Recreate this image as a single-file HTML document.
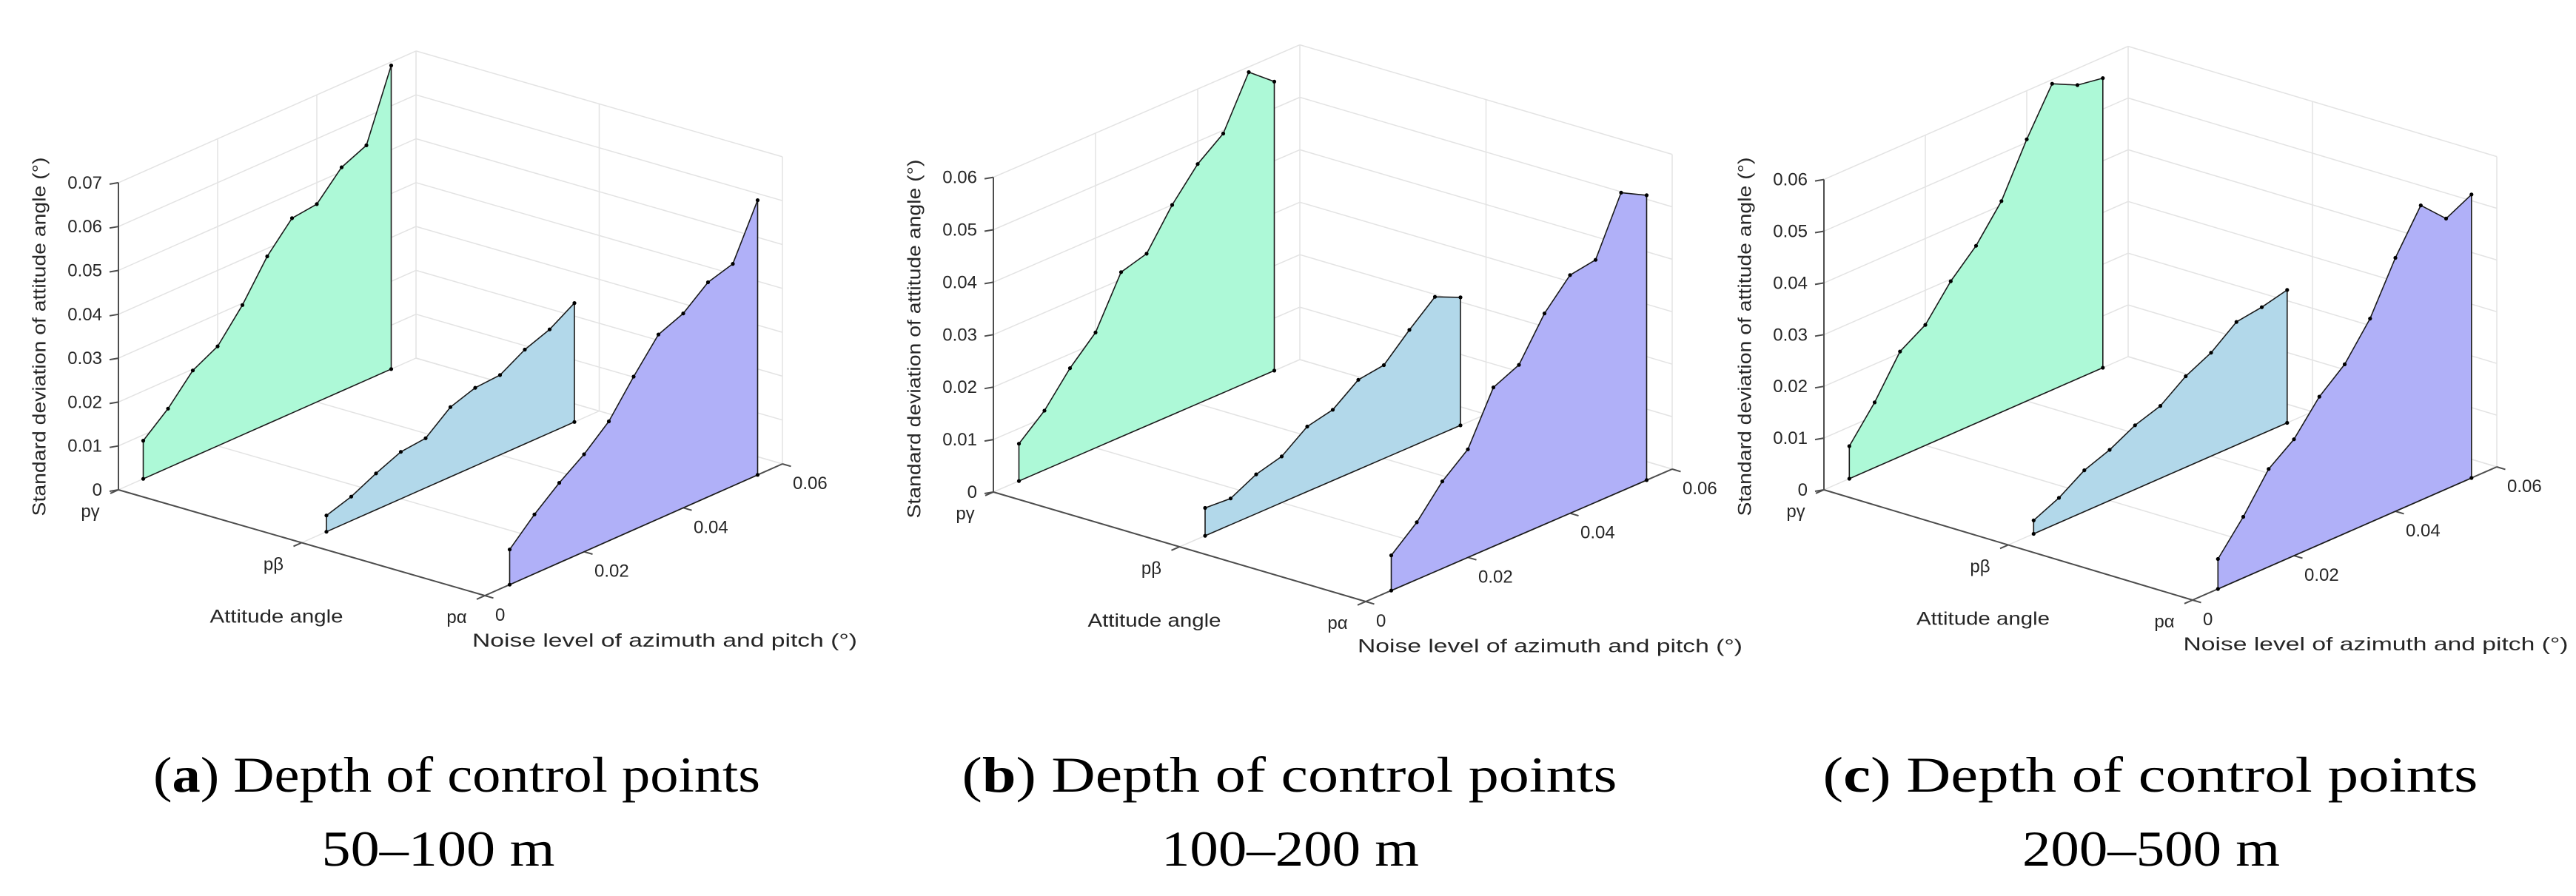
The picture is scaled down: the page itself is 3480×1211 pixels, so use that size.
<!DOCTYPE html>
<html><head><meta charset="utf-8"><style>
html,body{margin:0;padding:0;background:#fff;}
svg{display:block;}
text{font-family:"Liberation Sans",sans-serif;}
.cap{font-family:"Liberation Serif",serif;fill:#000;}
</style></head><body>
<svg id="fig" width="3480" height="1211" viewBox="0 0 3480 1211" xmlns="http://www.w3.org/2000/svg">
<rect width="3480" height="1211" fill="#fff"/>
<g id="panels"></g>
<g>
<text class="cap" x="617" y="1070" font-size="68" text-anchor="middle" textLength="820" lengthAdjust="spacingAndGlyphs">(<tspan font-weight="bold">a</tspan>) Depth of control points</text>
<text class="cap" x="592" y="1170" font-size="68" text-anchor="middle" textLength="315" lengthAdjust="spacingAndGlyphs">50–100 m</text>
</g>
<g>
<text class="cap" x="1742" y="1070" font-size="68" text-anchor="middle" textLength="885" lengthAdjust="spacingAndGlyphs">(<tspan font-weight="bold">b</tspan>) Depth of control points</text>
<text class="cap" x="1743" y="1170" font-size="68" text-anchor="middle" textLength="348" lengthAdjust="spacingAndGlyphs">100–200 m</text>
</g>
<g>
<text class="cap" x="2905" y="1070" font-size="68" text-anchor="middle" textLength="885" lengthAdjust="spacingAndGlyphs">(<tspan font-weight="bold">c</tspan>) Depth of control points</text>
<text class="cap" x="2906" y="1170" font-size="68" text-anchor="middle" textLength="348" lengthAdjust="spacingAndGlyphs">200–500 m</text>
</g>
</svg>
<script>
// ---- data ----
const noiseLevels = [0.005,0.01,0.015,0.02,0.025,0.03,0.035,0.04,0.045,0.05,0.055];
const attitudeCategories = ["pγ","pβ","pα"];
const noiseTicks = [0,0.02,0.04,0.06];
const noiseTickLabels = ["0","0.02","0.04","0.06"];
const zTicksA = [0,0.01,0.02,0.03,0.04,0.05,0.06,0.07];
const zTicksBC = [0,0.01,0.02,0.03,0.04,0.05,0.06];
const aGamma = [0.0087,0.0135,0.0197,0.0227,0.0296,0.0382,0.0444,0.0451,0.051,0.0535,0.0692];
const aBeta  = [0.0037,0.0055,0.0083,0.0107,0.0113,0.0159,0.0178,0.0182,0.0215,0.0236,0.0271];
const aAlpha = [0.008,0.0135,0.0182,0.0222,0.0272,0.0349,0.042,0.0443,0.0489,0.0506,0.0626];
const bGamma = [0.0071,0.0113,0.0173,0.022,0.0314,0.0328,0.040,0.0457,0.0494,0.059,0.0551];
const bBeta  = [0.0053,0.0050,0.0075,0.0088,0.0124,0.0135,0.0171,0.0178,0.0224,0.0266,0.0244];
const bAlpha = [0.0067,0.0109,0.0166,0.0206,0.0303,0.0325,0.0402,0.0454,0.0462,0.0569,0.0543];
const cGamma = [0.0063,0.0126,0.0203,0.0233,0.0296,0.0343,0.0408,0.0506,0.0592,0.0568,0.056];
const cBeta  = [0.0026,0.0048,0.008,0.0098,0.0124,0.014,0.0176,0.020,0.0238,0.0245,0.0257];
const cAlpha = [0.0058,0.0118,0.0189,0.0225,0.0286,0.0327,0.0394,0.049,0.057,0.0523,0.0548];

const NS="http://www.w3.org/2000/svg";
const root=document.getElementById('panels');
function mk(tag,attrs,parent){const e=document.createElementNS(NS,tag);for(const k in attrs)e.setAttribute(k,attrs[k]);parent.appendChild(e);return e;}

const panels=[
 {id:'a',O:[160,662],A:[495,143],N:[402,-178],zpx:5930,zTicks:zTicksA,series:[aGamma,aBeta,aAlpha]},
 {id:'b',O:[1342,665],A:[503,148],N:[414,-179],zpx:7090,zTicks:zTicksBC,series:[bGamma,bBeta,bAlpha]},
 {id:'c',O:[2464,662],A:[498,149],N:[411,-180],zpx:6990,zTicks:zTicksBC,series:[cGamma,cBeta,cAlpha]}
];
const fills=["#adf9d7","#b2d8ea","#b0b0f8"];
const seriesNames=["gamma","beta","alpha"];

panels.forEach(p=>{
 const g=mk('g',{},root);
 
 
 const zmax=p.zTicks[p.zTicks.length-1];
 const P=(att,n,z)=>[p.O[0]+att*p.A[0]+(n/0.06)*p.N[0], p.O[1]+att*p.A[1]+(n/0.06)*p.N[1]-z*p.zpx];
 const line=(a,b,col,w,name)=>{const l=mk('line',{x1:a[0].toFixed(1),y1:a[1].toFixed(1),x2:b[0].toFixed(1),y2:b[1].toFixed(1),stroke:col,'stroke-width':w},g);
   
   return l;};
 const grid='#e3e3e3';
 p.zTicks.forEach(z=>{
   line(P(0,0,z),P(0,0.06,z),grid,1.5,'gridline-z');
   line(P(0,0.06,z),P(1,0.06,z),grid,1.5,'gridline-z');
 });
 noiseTicks.forEach(n=>{
   line(P(0,n,0),P(0,n,zmax),grid,1.5,'gridline-noise-wall');
   line(P(0,n,0),P(1,n,0),grid,1.5,'gridline-noise-floor');
 });
 [0.5,1].forEach(a=>{
   line(P(a,0.06,0),P(a,0.06,zmax),grid,1.5,'gridline-attitude-wall');
   line(P(a,0,0),P(a,0.06,0),grid,1.5,'gridline-attitude-floor');
 });
 const ax='#4d4d4d';
 line(P(0,0,0),P(0,0,zmax),ax,2,'z-axis-line');
 line(P(0,0,0),P(1,0,0),ax,2,'attitude-axis-line');
 line(P(1,0,0),P(1,0.06,0),ax,2,'noise-axis-line');
 const nl=Math.hypot(p.N[0],p.N[1]), al=Math.hypot(p.A[0],p.A[1]);
 const nu=[p.N[0]/nl,p.N[1]/nl], au=[p.A[0]/al,p.A[1]/al];
 p.zTicks.forEach(z=>{
   const q=P(0,0,z);
   line(q,[q[0]-12,q[1]+2],ax,2,'z-tick');
   const t=mk('text',{x:(q[0]-22).toFixed(1),y:(q[1]+8).toFixed(1),'font-size':24,fill:'#262626','text-anchor':'end'},g);
   t.textContent=(z===0?'0':z.toFixed(2));
   
   
 });
 attitudeCategories.forEach((c,i)=>{
   const q=P(i/2,0,0);
   line(q,[q[0]-nu[0]*12,q[1]-nu[1]*12],ax,2,'attitude-tick');
   const t=mk('text',{x:(q[0]-38).toFixed(1),y:(q[1]+37).toFixed(1),'font-size':24,fill:'#262626','text-anchor':'middle'},g);
   t.textContent=c;
   
   
 });
 noiseTicks.forEach((n,i)=>{
   const q=P(1,n,0);
   line(q,[q[0]+au[0]*12,q[1]+au[1]*12],ax,2,'noise-tick');
   const t=mk('text',{x:(q[0]+14).toFixed(1),y:(q[1]+34).toFixed(1),'font-size':24,fill:'#262626','text-anchor':'start'},g);
   t.textContent=noiseTickLabels[i];
   
   
 });
 let q=P(0.5,0,0);
 let t=mk('text',{x:(q[0]-34).toFixed(1),y:(q[1]+108).toFixed(1),'font-size':25,fill:'#262626','text-anchor':'middle',textLength:180,lengthAdjust:'spacingAndGlyphs'},g);
 t.textContent='Attitude angle';
 
 
 q=P(1,0.03,0);
 t=mk('text',{x:(q[0]+42).toFixed(1),y:(q[1]+158).toFixed(1),'font-size':25,fill:'#262626','text-anchor':'middle',textLength:520,lengthAdjust:'spacingAndGlyphs'},g);
 t.textContent='Noise level of azimuth and pitch (°)';
 
 
 const zx=p.O[0]-105, zy=p.O[1]-207;
 t=mk('text',{x:zx,y:zy,'font-size':25,fill:'#262626','text-anchor':'middle',transform:`rotate(-90 ${zx} ${zy})`,textLength:485,lengthAdjust:'spacingAndGlyphs','dominant-baseline':'middle'},g);
 t.textContent='Standard deviation of attitude angle (°)';
 
 
 p.series.forEach((vals,si)=>{
   const att=si/2;
   const bottom=noiseLevels.map(n=>P(att,n,0));
   const top=noiseLevels.map((n,i)=>P(att,n,vals[i]));
   const pts=bottom.concat(top.slice().reverse()).map(v=>v[0].toFixed(1)+','+v[1].toFixed(1)).join(' ');
   const poly=mk('polygon',{points:pts,fill:fills[si],stroke:'#1a1a1a','stroke-width':1.6,'stroke-linejoin':'round'},g);
   
   
   top.concat([bottom[0],bottom[bottom.length-1]]).forEach(v=>{
     const c=mk('circle',{cx:v[0].toFixed(1),cy:v[1].toFixed(1),r:2.6,fill:'#000'},g);
     
     
   });
 });
});
</script>
</body></html>
